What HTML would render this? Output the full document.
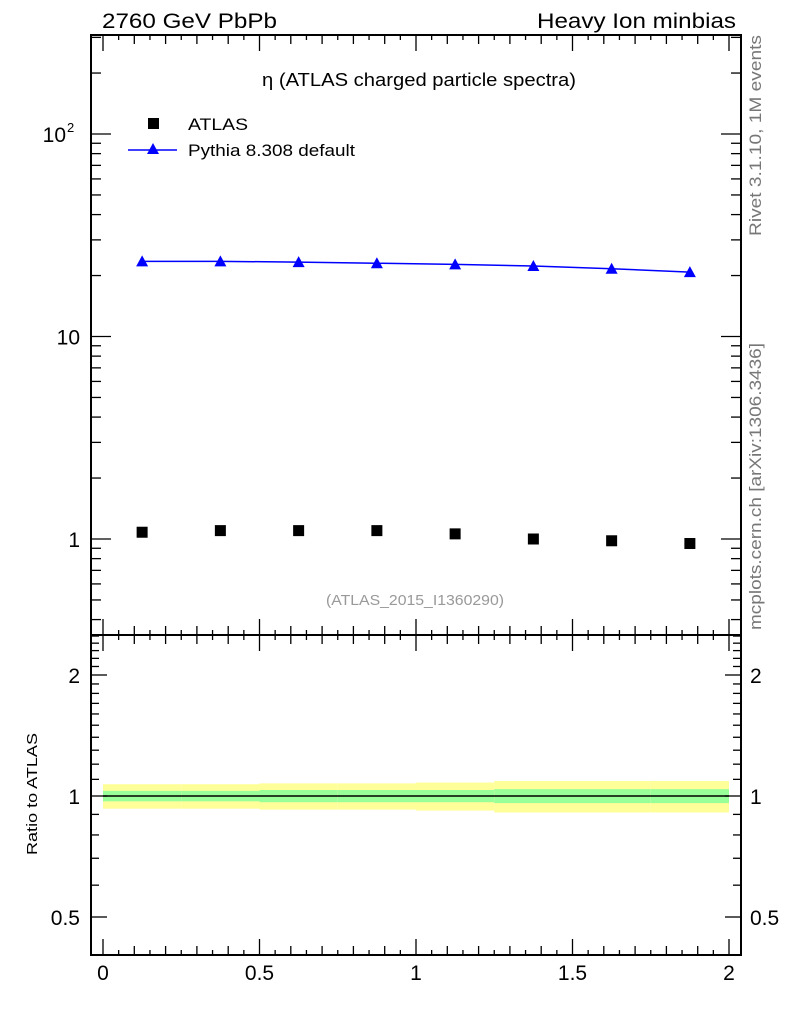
<!DOCTYPE html>
<html><head><meta charset="utf-8"><style>
body{margin:0;background:#fff;}
svg{display:block;font-family:"Liberation Sans",sans-serif;}
</style></head><body>
<svg id="c" width="786" height="1024" xmlns="http://www.w3.org/2000/svg">
<text x="102" y="28" font-size="21" textLength="175" lengthAdjust="spacingAndGlyphs">2760 GeV PbPb</text>
<text x="537" y="28" font-size="21" textLength="199" lengthAdjust="spacingAndGlyphs">Heavy Ion minbias</text>
<text x="262" y="86" font-size="18" textLength="314" lengthAdjust="spacingAndGlyphs">η (ATLAS charged particle spectra)</text>
<text x="326" y="605" font-size="15" fill="#999" textLength="178" lengthAdjust="spacingAndGlyphs">(ATLAS_2015_I1360290)</text>
<text transform="translate(761,236) rotate(-90)" font-size="17" fill="#777" textLength="201" lengthAdjust="spacingAndGlyphs">Rivet 3.1.10,  1M events</text>
<text transform="translate(761,630) rotate(-90)" font-size="17" fill="#777" textLength="287" lengthAdjust="spacingAndGlyphs">mcplots.cern.ch [arXiv:1306.3436]</text>
<text transform="translate(37,855) rotate(-90)" font-size="15" textLength="122" lengthAdjust="spacingAndGlyphs">Ratio to ATLAS</text>
<g>
<rect x="148" y="118" width="11" height="11" fill="#000"/>
<text x="188" y="130" font-size="17" textLength="60" lengthAdjust="spacingAndGlyphs">ATLAS</text>
<line x1="128" y1="150" x2="177" y2="150" stroke="#00f" stroke-width="1.5"/>
<polygon points="153,143 159,154 147,154" fill="#00f"/>
<text x="188" y="156" font-size="17" textLength="167" lengthAdjust="spacingAndGlyphs">Pythia 8.308 default</text>
</g>
<g id="g"></g>
</svg>
<script>
const xCenters=[0.125,0.375,0.625,0.875,1.125,1.375,1.625,1.875];
const atlasVals=[1.08,1.1,1.1,1.1,1.06,1.0,0.98,0.95];
const pythiaVals=[23.5,23.5,23.3,23.0,22.7,22.3,21.6,20.8];
const binEdges=[0,0.25,0.5,0.75,1,1.25,1.5,1.75,2];
const bandYellow=[0.07,0.07,0.075,0.075,0.08,0.09,0.09,0.09];
const bandGreen=[0.03,0.03,0.035,0.035,0.035,0.04,0.04,0.04];
const xTicks=[0,0.5,1,1.5,2];
const xTickLabels=["0","0.5","1","1.5","2"];
const ratioTicks=[0.5,1,2];
const ratioTickLabels=["0.5","1","2"];
const NS="http://www.w3.org/2000/svg";
const g=document.getElementById('g');
const L=91,R=741,T=35,M=635,B=955;
const X=v=>103+313*v;
const Y=v=>539-202.5*Math.log10(v);
const YR=v=>796-121*Math.log2(v);
function mk(t,a){const e=document.createElementNS(NS,t);for(const k in a)e.setAttribute(k,a[k]);g.appendChild(e);return e;}
binEdges.slice(0,-1).forEach((e,i)=>{
 const x0=X(e),x1=X(binEdges[i+1]);
 let r=mk('rect',{x:x0,y:YR(1+bandYellow[i]),width:x1-x0,height:YR(1-bandYellow[i])-YR(1+bandYellow[i]),fill:'#ffff99'});
 
 
 r=mk('rect',{x:x0,y:YR(1+bandGreen[i]),width:x1-x0,height:YR(1-bandGreen[i])-YR(1+bandGreen[i]),fill:'#99ff99'});
 
 
});
let ln=mk('line',{x1:X(0),x2:X(2),y1:YR(1),y2:YR(1),stroke:'#000','stroke-width':1.5});


let f=mk('rect',{x:L,y:T,width:R-L,height:M-T,fill:'none',stroke:'#000','stroke-width':2});


f=mk('rect',{x:L,y:M,width:R-L,height:B-M,fill:'none',stroke:'#000','stroke-width':2});


for(let v=0;v<=2.0001;v+=0.05){
 const big=Math.abs(v*2-Math.round(v*2))<1e-6;const mid=Math.abs(v*10-Math.round(v*10))<1e-6;
 const len=big?16:(mid?9:5);const x=X(v);
 [T,M,B].forEach(y0=>{
  if(y0!==T) mk('line',{x1:x,x2:x,y1:y0,y2:y0-len,stroke:'#000','stroke-width':1.3});
  if(y0!==B) mk('line',{x1:x,x2:x,y1:y0,y2:y0+len,stroke:'#000','stroke-width':1.3});
 });
}
xTicks.forEach((v,i)=>{const t=mk('text',{x:X(v),y:980,'font-size':21,'text-anchor':'middle'});t.textContent=xTickLabels[i];
 
 });
for(let d=-1;d<=2;d++)for(let m=1;m<=9;m++){const v=m*Math.pow(10,d);const y=Y(v);if(y<T||y>M)continue;
 const len=m===1?20:10;
 mk('line',{x1:L,x2:L+len,y1:y,y2:y,stroke:'#000','stroke-width':1.3});
 mk('line',{x1:R,x2:R-len,y1:y,y2:y,stroke:'#000','stroke-width':1.3});}
[["1",1],["10",10]].forEach(([s,v])=>{const t=mk('text',{x:80,y:Y(v)+8,'font-size':21,'text-anchor':'end'});t.textContent=s;
 
 });
let t2=mk('text',{x:66,y:Y(100)+8,'font-size':21,'text-anchor':'end'});t2.textContent="10";


let sup=mk('text',{x:67,y:Y(100)-2,'font-size':13});sup.textContent="2";
for(let v=0.4;v<=2.5001;v+=0.1){const y=YR(v);if(y<M||y>B)continue;
 const major=[0.5,1,2].some(k=>Math.abs(k-v)<1e-6);const len=major?16:8;
 mk('line',{x1:L,x2:L+len,y1:y,y2:y,stroke:'#000','stroke-width':1.3});
 mk('line',{x1:R,x2:R-len,y1:y,y2:y,stroke:'#000','stroke-width':1.3});}
ratioTicks.forEach((v,i)=>{let t=mk('text',{x:80,y:YR(v)+8,'font-size':21,'text-anchor':'end'});t.textContent=ratioTickLabels[i];
 
 
 t=mk('text',{x:750,y:YR(v)+8,'font-size':21});t.textContent=ratioTickLabels[i];
 
 });
const pl=mk('polyline',{points:xCenters.map((x,i)=>X(x)+','+Y(pythiaVals[i])).join(' '),fill:'none',stroke:'#00f','stroke-width':1.5});


xCenters.forEach((x,i)=>{const cx=X(x),cy=Y(pythiaVals[i]);
 const p=mk('polygon',{points:`${cx},${cy-6} ${cx+6},${cy+5} ${cx-6},${cy+5}`,fill:'#00f'});
 
 
 const r=mk('rect',{x:cx-5.5,y:Y(atlasVals[i])-5.5,width:11,height:11,fill:'#000'});
 
 });
</script>
</body></html>
